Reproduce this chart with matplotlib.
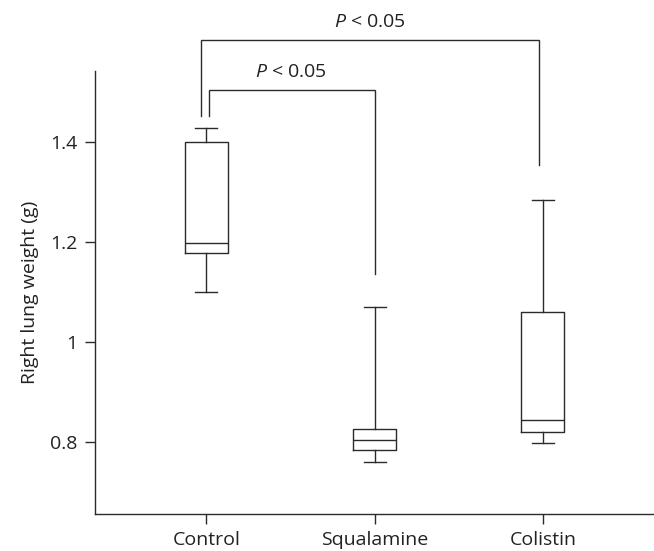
import matplotlib
matplotlib.use("Agg")
import matplotlib.pyplot as plt

plt.rcParams['font.family'] = ['Open Sans', 'DejaVu Sans']
plt.rcParams['mathtext.fontset'] = 'custom'
plt.rcParams['mathtext.rm'] = 'Open Sans'
plt.rcParams['mathtext.it'] = 'Open Sans:italic'

# box plot summary
groups = ["Control", "Squalamine", "Colistin"]
whisker_low = [1.10, 0.761, 0.798]
q1 = [1.179, 0.785, 0.821]
median = [1.199, 0.805, 0.844]
q3 = [1.40, 0.827, 1.061]
whisker_high = [1.428, 1.071, 1.284]

yticks = [0.8, 1.0, 1.2, 1.4]
ytick_labels = ["0.8", "1", "1.2", "1.4"]

# significance brackets: (left x, left bottom, top, right x, right bottom)
brackets = [
    (1.016, 1.452, 1.505, 2.0, 1.137),
    (0.968, 1.452, 1.604, 2.976, 1.354),
]
bracket_text = ["$P$ < 0.05", "$P$ < 0.05"]
bracket_text_pos = [(1.50, 1.54), (1.97, 1.64)]

ink = "#2b2b2b"
lw = 1.0

fig = plt.figure(figsize=(6.54, 5.51), dpi=100)
ax = fig.add_axes([0.1448, 0.0672, 0.8552, 0.804])

stats = []
for i, g in enumerate(groups):
    stats.append({
        "label": g,
        "whislo": whisker_low[i],
        "q1": q1[i],
        "med": median[i],
        "q3": q3[i],
        "whishi": whisker_high[i],
        "fliers": [],
    })

line_kw = dict(color=ink, linewidth=lw)
ax.bxp(stats, positions=[1, 2, 3], widths=0.256, showfliers=False,
       boxprops=line_kw, medianprops=line_kw, whiskerprops=line_kw,
       capprops=line_kw, capwidths=0.13)

for (x0, y0, ytop, x1, y1), txt, (tx, ty) in zip(brackets, bracket_text, bracket_text_pos):
    ax.plot([x0, x0, x1, x1], [y0, ytop, ytop, y1], color=ink, linewidth=lw,
            clip_on=False, solid_joinstyle="miter")
    ax.text(tx, ty, txt, ha="center", va="center", fontsize=14, color="#222222")

ax.set_xlim(0.337, 3.66)
ax.set_ylim(0.657, 1.543)
ax.set_yticks(yticks)
ax.set_yticklabels(ytick_labels)
ax.set_xticks([1, 2, 3])
ax.set_xticklabels(groups)
ax.set_ylabel("Right lung weight (g)", fontsize=14, color="#222222", labelpad=8)

ax.spines["top"].set_visible(False)
ax.spines["right"].set_visible(False)
for s in ["left", "bottom"]:
    ax.spines[s].set_color(ink)
    ax.spines[s].set_linewidth(lw)
ax.tick_params(axis="both", direction="out", length=7.5, width=lw, color=ink,
               labelsize=14, labelcolor="#222222")
ax.tick_params(axis="y", pad=5)
ax.tick_params(axis="x", pad=5)

fig.savefig("out.png", dpi=100)
